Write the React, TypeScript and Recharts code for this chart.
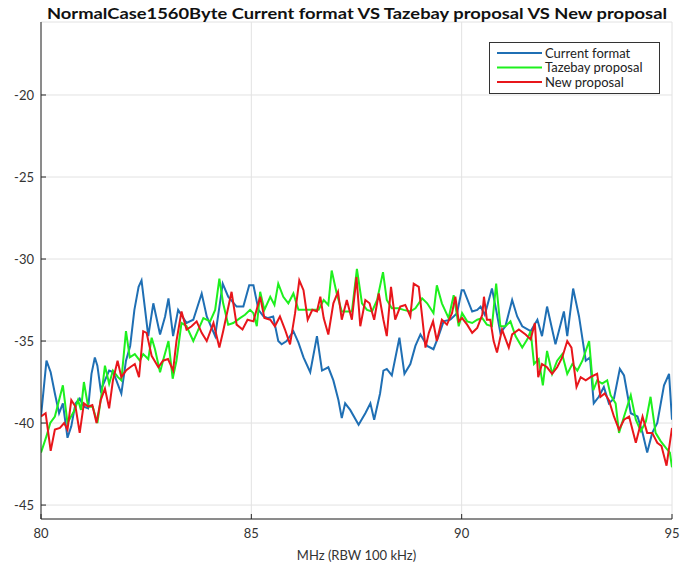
import React from 'react';
import { LineChart, Line, XAxis, YAxis, CartesianGrid } from 'recharts';

const TITLE = 'NormalCase1560Byte Current format VS Tazebay proposal VS New proposal';
const X_LABEL = 'MHz (RBW 100 kHz)';
const SERIES_NAMES = ['Current format', 'Tazebay proposal', 'New proposal'];
const SERIES_COLORS = ['#1f6fb4', '#1ef01e', '#e8161b'];
const X_TICKS = [80, 85, 90, 95];
const Y_TICKS = [-45, -40, -35, -30, -25, -20];

const currentFreq = [80.0, 80.13, 80.23, 80.33, 80.43, 80.52, 80.63, 80.72, 80.82, 80.92, 81.02, 81.12, 81.2, 81.28, 81.34, 81.42, 81.52, 81.62, 81.72, 81.82, 81.91, 82.02, 82.12, 82.22, 82.32, 82.39, 82.47, 82.55, 82.67, 82.83, 82.95, 83.03, 83.14, 83.26, 83.46, 83.62, 83.82, 83.94, 84.14, 84.32, 84.45, 84.65, 84.81, 84.95, 85.05, 85.17, 85.29, 85.4, 85.52, 85.64, 85.72, 85.84, 86.0, 86.12, 86.24, 86.4, 86.56, 86.68, 86.83, 86.95, 87.07, 87.15, 87.23, 87.35, 87.55, 87.71, 87.83, 87.92, 88.06, 88.14, 88.22, 88.34, 88.52, 88.64, 88.78, 88.9, 89.02, 89.18, 89.33, 89.45, 89.57, 89.73, 89.89, 90.0, 90.05, 90.25, 90.37, 90.45, 90.55, 90.72, 90.82, 90.92, 91.04, 91.2, 91.32, 91.44, 91.64, 91.8, 91.91, 92.03, 92.23, 92.43, 92.51, 92.65, 92.79, 92.95, 93.05, 93.14, 93.26, 93.38, 93.5, 93.62, 93.76, 93.86, 94.02, 94.18, 94.3, 94.41, 94.53, 94.65, 94.81, 94.93, 95.0];
const currentValues = [-39.6, -36.2, -36.9, -38.2, -39.4, -38.8, -40.9, -40.2, -38.8, -38.5, -39.0, -39.1, -37.0, -36.0, -36.5, -38.0, -37.4, -36.8, -36.9, -37.6, -38.2, -36.2, -35.3, -33.1, -31.7, -31.3, -33.0, -34.7, -32.7, -34.6, -33.5, -32.4, -34.7, -33.1, -33.9, -33.7, -32.1, -33.5, -34.7, -31.5, -32.3, -32.9, -32.9, -31.6, -31.6, -33.1, -33.5, -33.6, -33.5, -35.0, -35.2, -35.0, -34.4, -35.1, -36.0, -36.9, -34.7, -36.8, -36.6, -37.4, -38.6, -39.7, -38.8, -39.2, -40.1, -39.4, -38.8, -39.8, -38.2, -36.8, -36.7, -37.1, -34.8, -37.0, -36.4, -35.3, -34.6, -35.3, -35.5, -34.7, -33.8, -33.7, -33.3, -31.9, -31.9, -33.2, -33.1, -32.9, -33.4, -31.8, -33.1, -34.5, -34.1, -32.5, -33.5, -34.1, -34.4, -33.7, -34.7, -32.9, -35.2, -33.2, -34.7, -31.8, -33.5, -36.2, -36.0, -38.8, -38.4, -37.8, -38.8, -38.5, -36.7, -37.1, -39.4, -39.6, -40.6, -41.8, -40.6, -40.0, -37.7, -37.0, -39.8];

const tazebayFreq = [80.0, 80.13, 80.22, 80.33, 80.52, 80.63, 80.8, 80.88, 80.95, 81.02, 81.12, 81.23, 81.34, 81.44, 81.52, 81.62, 81.71, 81.83, 81.91, 82.02, 82.11, 82.23, 82.35, 82.43, 82.55, 82.63, 82.71, 82.83, 82.9, 83.03, 83.13, 83.22, 83.34, 83.46, 83.62, 83.74, 83.86, 84.02, 84.14, 84.24, 84.33, 84.45, 84.57, 84.73, 84.85, 84.97, 85.05, 85.13, 85.21, 85.31, 85.45, 85.55, 85.64, 85.76, 85.88, 86.0, 86.12, 86.28, 86.44, 86.6, 86.72, 86.83, 86.91, 87.03, 87.15, 87.27, 87.39, 87.51, 87.63, 87.75, 87.87, 87.99, 88.13, 88.22, 88.34, 88.5, 88.62, 88.78, 88.9, 89.06, 89.18, 89.33, 89.41, 89.53, 89.69, 89.81, 89.93, 90.01, 90.13, 90.25, 90.37, 90.49, 90.6, 90.72, 90.82, 90.92, 91.04, 91.16, 91.28, 91.44, 91.56, 91.64, 91.72, 91.83, 91.93, 92.03, 92.15, 92.27, 92.39, 92.51, 92.63, 92.75, 92.87, 93.03, 93.13, 93.22, 93.34, 93.46, 93.54, 93.66, 93.74, 93.86, 94.02, 94.14, 94.26, 94.38, 94.49, 94.61, 94.73, 94.85, 94.95, 95.0];
const tazebayValues = [-41.8, -40.8, -40.0, -39.6, -37.7, -40.0, -39.2, -38.6, -39.2, -37.5, -39.0, -39.0, -40.0, -38.2, -36.5, -37.6, -36.8, -37.2, -37.4, -34.4, -36.0, -35.8, -36.2, -35.8, -36.1, -34.8, -35.5, -36.9, -36.2, -35.0, -37.3, -36.2, -33.9, -34.1, -35.0, -34.3, -33.6, -33.8, -33.1, -31.2, -32.7, -34.0, -33.9, -33.6, -33.4, -33.1, -33.3, -34.1, -32.0, -33.1, -32.3, -32.8, -31.5, -32.3, -32.7, -32.1, -33.1, -33.1, -33.1, -33.1, -32.5, -32.8, -30.7, -32.1, -33.2, -33.2, -33.2, -30.6, -32.7, -33.1, -33.2, -32.5, -30.8, -32.5, -33.0, -33.0, -33.1, -33.2, -33.0, -32.4, -32.7, -33.3, -31.6, -32.7, -33.6, -32.2, -34.1, -33.3, -33.8, -33.9, -33.7, -33.6, -34.0, -34.1, -31.5, -34.1, -34.1, -33.8, -34.7, -35.4, -34.9, -34.4, -36.4, -36.1, -37.7, -35.6, -37.0, -36.2, -35.8, -37.0, -36.4, -36.8, -36.2, -35.0, -38.0, -37.4, -37.6, -37.4, -38.3, -38.8, -40.6, -39.6, -38.3, -39.8, -40.5, -39.9, -38.4, -40.6, -41.1, -41.5, -41.8, -42.7];

const newFreq = [80.0, 80.11, 80.23, 80.33, 80.45, 80.55, 80.63, 80.72, 80.82, 80.92, 81.02, 81.12, 81.22, 81.32, 81.42, 81.52, 81.62, 81.71, 81.82, 81.91, 82.02, 82.12, 82.23, 82.33, 82.43, 82.51, 82.63, 82.79, 82.9, 83.02, 83.14, 83.22, 83.34, 83.46, 83.58, 83.7, 83.82, 83.94, 84.1, 84.24, 84.33, 84.53, 84.65, 84.79, 84.91, 85.05, 85.21, 85.31, 85.45, 85.56, 85.68, 85.8, 85.92, 86.04, 86.14, 86.24, 86.34, 86.45, 86.56, 86.64, 86.72, 86.83, 86.95, 87.06, 87.15, 87.27, 87.39, 87.5, 87.59, 87.71, 87.81, 87.92, 88.03, 88.14, 88.22, 88.32, 88.42, 88.54, 88.66, 88.78, 88.86, 88.98, 89.06, 89.14, 89.22, 89.32, 89.41, 89.53, 89.65, 89.77, 89.85, 89.93, 90.01, 90.13, 90.25, 90.37, 90.49, 90.53, 90.6, 90.68, 90.76, 90.84, 90.96, 91.12, 91.2, 91.36, 91.52, 91.64, 91.74, 91.82, 91.91, 92.03, 92.15, 92.27, 92.39, 92.51, 92.61, 92.73, 92.83, 92.95, 93.06, 93.22, 93.3, 93.4, 93.5, 93.62, 93.74, 93.86, 93.98, 94.14, 94.3, 94.41, 94.53, 94.65, 94.75, 94.87, 95.0];
const newValues = [-39.6, -39.4, -41.7, -40.4, -40.3, -40.0, -40.4, -38.6, -39.0, -40.6, -38.8, -39.0, -38.9, -40.0, -38.6, -37.9, -39.1, -37.4, -36.2, -37.2, -36.8, -36.6, -36.4, -37.2, -34.4, -34.5, -35.9, -36.6, -36.2, -36.1, -36.8, -35.0, -33.2, -34.3, -34.1, -33.8, -34.5, -35.0, -33.9, -35.4, -34.4, -32.0, -34.0, -34.3, -33.7, -33.8, -32.3, -33.6, -33.7, -34.1, -33.5, -34.3, -35.2, -33.3, -31.3, -31.9, -33.7, -33.1, -33.2, -32.3, -33.6, -34.6, -32.7, -32.0, -33.7, -32.5, -33.7, -31.1, -34.1, -32.5, -32.7, -33.7, -32.1, -33.7, -34.7, -31.7, -33.7, -32.9, -32.8, -33.5, -31.5, -31.7, -33.5, -35.4, -34.5, -33.8, -35.0, -33.7, -34.0, -33.3, -32.3, -33.8, -33.6, -34.0, -34.5, -34.2, -33.4, -32.3, -33.7, -33.7, -35.0, -35.7, -34.3, -35.4, -34.6, -34.3, -34.6, -34.9, -33.9, -37.2, -36.4, -36.6, -37.0, -36.6, -36.0, -35.0, -35.4, -37.8, -37.2, -37.4, -37.2, -37.0, -38.4, -38.2, -38.6, -39.6, -40.4, -39.8, -39.6, -41.2, -39.6, -40.6, -40.6, -41.2, -41.4, -42.6, -40.3];

const toData = (freq: number[], values: number[]) => freq.map((f, i) => ({ f, v: values[i] }));
const seriesData = [
  toData(currentFreq, currentValues),
  toData(tazebayFreq, tazebayValues),
  toData(newFreq, newValues),
];

const FONT = 'Lato, "Open Sans", sans-serif';
const AXIS_COLOR = '#262626';
const TICK_STYLE = { fill: '#333', fontSize: 13, fontFamily: FONT };

export default function App() {
  return (
    <div style={{ position: 'absolute', left: 0, top: 0, width: 682, height: 564, background: '#fff' }}>
      <LineChart
        width={682}
        height={564}
        margin={{ top: 22, right: 10, bottom: 0, left: 0 }}
      >
        <CartesianGrid stroke="#e2e2e2" strokeWidth={1} />
        <XAxis
          dataKey="f"
          type="number"
          domain={[80, 95]}
          ticks={X_TICKS}
          allowDataOverflow
          height={45}
          stroke={AXIS_COLOR}
          tickSize={-5}
          tickMargin={15}
          tick={TICK_STYLE}
          label={{ value: X_LABEL, position: 'insideBottom', offset: 4, fill: '#333', fontSize: 13, fontFamily: FONT }}
        />
        <XAxis
          xAxisId="top"
          orientation="top"
          dataKey="f"
          type="number"
          domain={[80, 95]}
          ticks={X_TICKS}
          height={0}
          stroke={AXIS_COLOR}
          tickSize={-5}
          tickFormatter={() => ''}
        />
        <YAxis
          type="number"
          domain={[-45.85, -15.55]}
          ticks={Y_TICKS}
          allowDataOverflow
          width={41}
          stroke={AXIS_COLOR}
          tickSize={-5}
          tickMargin={12}
          tick={TICK_STYLE}
        />
        <YAxis
          yAxisId="right"
          orientation="right"
          type="number"
          domain={[-45.85, -15.55]}
          ticks={Y_TICKS}
          width={0}
          stroke={AXIS_COLOR}
          tickSize={-5}
          tickFormatter={() => ''}
        />
        {seriesData.map((d, i) => (
          <Line
            key={SERIES_NAMES[i]}
            data={d}
            dataKey="v"
            name={SERIES_NAMES[i]}
            type="linear"
            stroke={SERIES_COLORS[i]}
            strokeWidth={2}
            dot={false}
            activeDot={false}
            isAnimationActive={false}
          />
        ))}
      </LineChart>
      <svg
        width={682}
        height={564}
        style={{ position: 'absolute', left: 0, top: 0, pointerEvents: 'none' }}
      >
        <text
          x={357}
          y={19}
          textAnchor="middle"
          fontFamily={FONT}
          fontWeight="bold"
          fontSize={15}
          fill="#111"
          textLength={620}
          lengthAdjust="spacingAndGlyphs"
        >
          {TITLE}
        </text>
        <rect x={489.5} y={42.5} width={170} height={51} fill="#fff" stroke="#333" strokeWidth={1} />
        {SERIES_NAMES.map((name, i) => (
          <g key={name}>
            <line x1={497} x2={542} y1={53 + i * 14.5} y2={53 + i * 14.5} stroke={SERIES_COLORS[i]} strokeWidth={2} />
            <text x={545} y={57.5 + i * 14.5} fontFamily={FONT} fontSize={13} fill="#222">
              {name}
            </text>
          </g>
        ))}
      </svg>
    </div>
  );
}
